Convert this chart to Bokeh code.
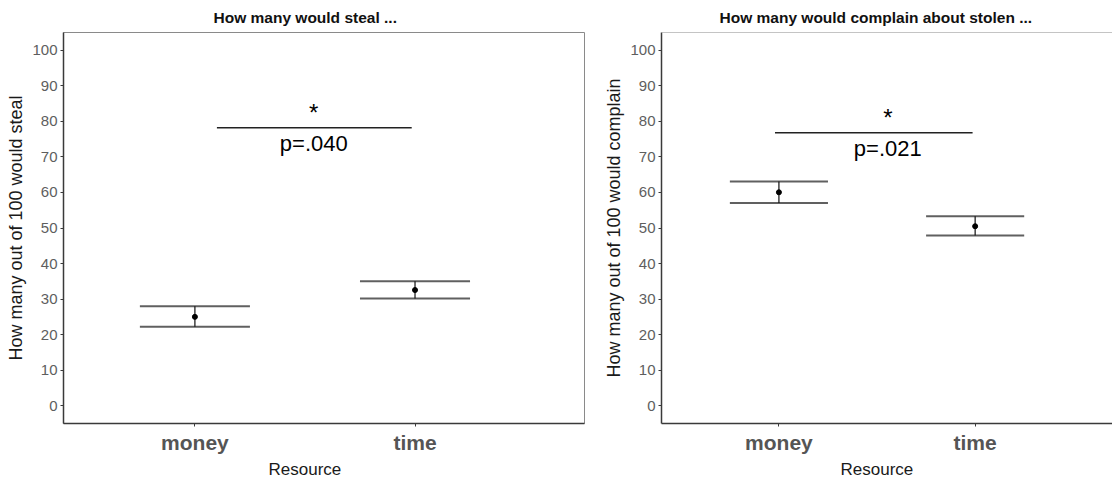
from bokeh.plotting import figure
from bokeh.models import Range1d, FixedTicker, Span, Title
from bokeh.layouts import row
from bokeh.embed import file_html
from bokeh.resources import INLINE
from bokeh.core.properties import value

# ---- data ----
categories = ["money", "time"]
positions = [1, 2]

steal_mean = [25.0, 32.55]
steal_upper = [28.0, 35.0]
steal_lower = [22.2, 30.2]

complain_mean = [60.05, 50.5]
complain_upper = [63.05, 53.3]
complain_lower = [57.0, 47.9]

y_ticks = [0, 10, 20, 30, 40, 50, 60, 70, 80, 90, 100]

steal_sig = dict(x0=1.1, x1=1.985, y=78.2, label_x=1.54, star="*", p="p=.040")
complain_sig = dict(x0=0.98, x1=1.987, y=76.8, label_x=1.555, star="*", p="p=.021")

FONT = "Liberation Sans"
FRAME_H = 391


def make_panel(title, ylabel, means, uppers, lowers, sig, xr, frame_w,
               min_left, min_right, title_offset, xlabel_offset, outline=True):
    p = figure(frame_width=frame_w, frame_height=FRAME_H,
               min_border_left=min_left, min_border_right=min_right,
               min_border_top=32, min_border_bottom=58,
               x_range=Range1d(*xr), y_range=Range1d(-5, 105),
               output_backend="svg", toolbar_location=None)

    p.grid.visible = False
    p.background_fill_color = "white"
    p.border_fill_color = "white"
    if outline:
        p.outline_line_color = "#8a8a8a"
        p.outline_line_width = 1
    else:
        p.outline_line_color = None
        p.add_layout(Span(location=105, dimension="width",
                          line_color="#8a8a8a", line_width=1))

    # axes
    for ax in (p.xaxis[0], p.yaxis[0]):
        ax.axis_line_color = "#3a3a3a"
        ax.axis_line_width = 1.5
        ax.major_tick_line_color = "#3a3a3a"
        ax.major_tick_out = 3
        ax.major_tick_in = 0
        ax.minor_tick_line_color = None
        ax.axis_label_text_font = FONT
        ax.axis_label_text_font_style = "normal"
        ax.axis_label_text_font_size = "18px"
        ax.axis_label_text_color = "#1a1a1a"
        ax.major_label_text_font = FONT

    p.yaxis.ticker = FixedTicker(ticks=y_ticks)
    p.yaxis.major_label_text_font_size = "15px"
    p.yaxis.major_label_text_color = "#5e5e5e"
    p.yaxis.major_label_standoff = 3
    p.yaxis.axis_label = ylabel
    p.yaxis.axis_label_standoff = 3

    p.xaxis.ticker = FixedTicker(ticks=positions)
    p.xaxis.major_label_overrides = {pos: c for pos, c in zip(positions, categories)}
    p.xaxis.major_label_text_font_size = "21px"
    p.xaxis.major_label_text_font_style = "bold"
    p.xaxis.major_label_text_color = "#555555"
    p.xaxis.major_label_standoff = 4

    # panel title and x-axis title as titles, shifted to the category midpoint
    p.add_layout(Title(text=title, align="left", offset=title_offset,
                       text_font=FONT, text_font_size="15.5px", text_font_style="bold",
                       text_color="#111111", standoff=13), "above")
    p.add_layout(Title(text="Resource", align="left", offset=xlabel_offset,
                       text_font=FONT, text_font_size="17px", text_font_style="normal",
                       text_color="#1a1a1a", vertical_align="top", standoff=6), "below")

    # caps (upper and lower horizontal lines)
    cap_half = 0.25
    p.segment(x0=[x - cap_half for x in positions], x1=[x + cap_half for x in positions],
              y0=uppers, y1=uppers, line_color="#606060", line_width=2)
    p.segment(x0=[x - cap_half for x in positions], x1=[x + cap_half for x in positions],
              y0=lowers, y1=lowers, line_color="#606060", line_width=2)
    # vertical error line
    p.segment(x0=positions, x1=positions, y0=lowers, y1=uppers,
              line_color="#111111", line_width=1.2)
    # mean points
    p.scatter(x=positions, y=means, size=5, color="black")

    # significance bracket
    p.segment(x0=[sig["x0"]], x1=[sig["x1"]], y0=[sig["y"]], y1=[sig["y"]],
              line_color="#222222", line_width=1.6)
    p.text(x=[sig["label_x"]], y=[sig["y"] + 4.2], text=[sig["star"]],
           text_font=value(FONT), text_font_size="24px", text_align="center",
           text_baseline="middle", text_color="black")
    p.text(x=[sig["label_x"]], y=[sig["y"] - 4.5], text=[sig["p"]],
           text_font=value(FONT), text_font_size="22px", text_align="center",
           text_baseline="middle", text_color="black")
    return p


p1 = make_panel("How many would steal ...", "How many out of 100 would steal",
                steal_mean, steal_upper, steal_lower, steal_sig,
                (0.403, 2.77), 521, 63, 14, 150, 205)
p2 = make_panel("How many would complain about stolen ...", "How many out of 100 would complain",
                complain_mean, complain_upper, complain_lower, complain_sig,
                (0.4016, 2.70), 451, 63, 0, 58, 179, outline=False)

layout = row(p1, p2, spacing=0)
open("out.html", "w").write(file_html(layout, INLINE))
